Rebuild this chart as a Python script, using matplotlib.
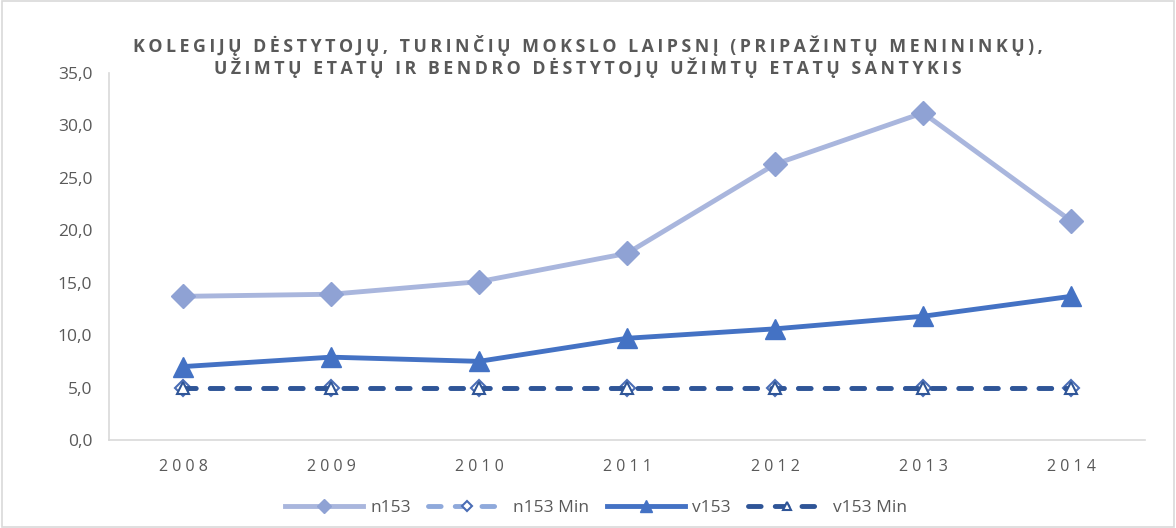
import matplotlib.pyplot as plt
from matplotlib.ticker import FuncFormatter

years = ["2008", "2009", "2010", "2011", "2012", "2013", "2014"]
n153 = [13.7, 13.9, 15.1, 17.8, 26.3, 31.2, 20.9]
n153_min = [5.0, 5.0, 5.0, 5.0, 5.0, 5.0, 5.0]
v153 = [7.0, 7.9, 7.5, 9.7, 10.6, 11.8, 13.7]
v153_min = [5.0, 5.0, 5.0, 5.0, 5.0, 5.0, 5.0]

title_lines = ["KOLEGIJŲ DĖSTYTOJŲ, TURINČIŲ MOKSLO LAIPSNĮ (PRIPAŽINTŲ MENININKŲ),",
               "UŽIMTŲ ETATŲ IR BENDRO DĖSTYTOJŲ UŽIMTŲ ETATŲ SANTYKIS"]


def spaced(s, sep="\u2009"):
    # fake letter spacing like the Excel chart title
    return sep.join(s)


plt.rcParams["font.family"] = ["Open Sans", "DejaVu Sans"]

fig = plt.figure(figsize=(11.76, 5.28), dpi=100)
ax = fig.add_axes([109 / 1176, 88 / 528, 1036 / 1176, 367 / 528])

x = list(range(len(years)))
dash = (0, (2.6, 2.9))
ax.plot(x, n153, color="#A9B6DD", lw=3.5, marker="D", ms=12,
        mfc="#8FA2D4", mec="#8FA2D4", label="n153", zorder=3)
ax.plot(x, n153_min, color="#8FA9DB", lw=3.5, ls=dash, dash_capstyle="round",
        marker="D", ms=8, mfc="white", mec="#4A6DB5", mew=1.5,
        label="n153 Min", zorder=2)
ax.plot(x, v153, color="#4472C4", lw=3.5, marker="^", ms=15,
        mfc="#4472C4", mec="#4472C4", label="v153", zorder=4)
ax.plot(x, v153_min, color="#2F5597", lw=3.5, ls=dash, dash_capstyle="round",
        marker="^", ms=9, mfc="white", mec="#2F5597", mew=1.5,
        label="v153 Min", zorder=3)

ax.set_xlim(-0.5, len(years) - 0.5)
ax.set_ylim(0, 35)
ax.set_yticks([0, 5, 10, 15, 20, 25, 30, 35])
ax.yaxis.set_major_formatter(FuncFormatter(lambda v, p: f"{v:.1f}".replace(".", ",")))
ax.set_xticks(x)
ax.set_xticklabels([spaced(y, " ") for y in years])

for s in ["top", "right"]:
    ax.spines[s].set_visible(False)
for s in ["left", "bottom"]:
    ax.spines[s].set_color("#D9D9D9")
    ax.spines[s].set_linewidth(1.2)
ax.tick_params(length=0, colors="#595959", labelsize=12.5)
ax.tick_params(axis="x", pad=14, labelsize=11.5)
ax.tick_params(axis="y", pad=12)

fig.text(0.5, 1 - 45 / 528, spaced(title_lines[0]), ha="center", va="center",
         fontsize=12.8, fontweight="bold", color="#595959")
fig.text(0.5, 1 - 68 / 528, spaced(title_lines[1]), ha="center", va="center",
         fontsize=12.8, fontweight="bold", color="#595959")

ax.legend(loc="upper center", bbox_to_anchor=(0.47, -0.12), ncol=4, frameon=False,
          fontsize=12.5, labelcolor="#595959", handlelength=4.5, columnspacing=1.0,
          handletextpad=0.4, markerscale=0.6)

border = plt.Rectangle((0.002, 0.002), 0.996, 0.996, transform=fig.transFigure,
                       fill=False, edgecolor="#D9D9D9", lw=1.2)
fig.patches.append(border)

fig.savefig("out.png", dpi=100)
